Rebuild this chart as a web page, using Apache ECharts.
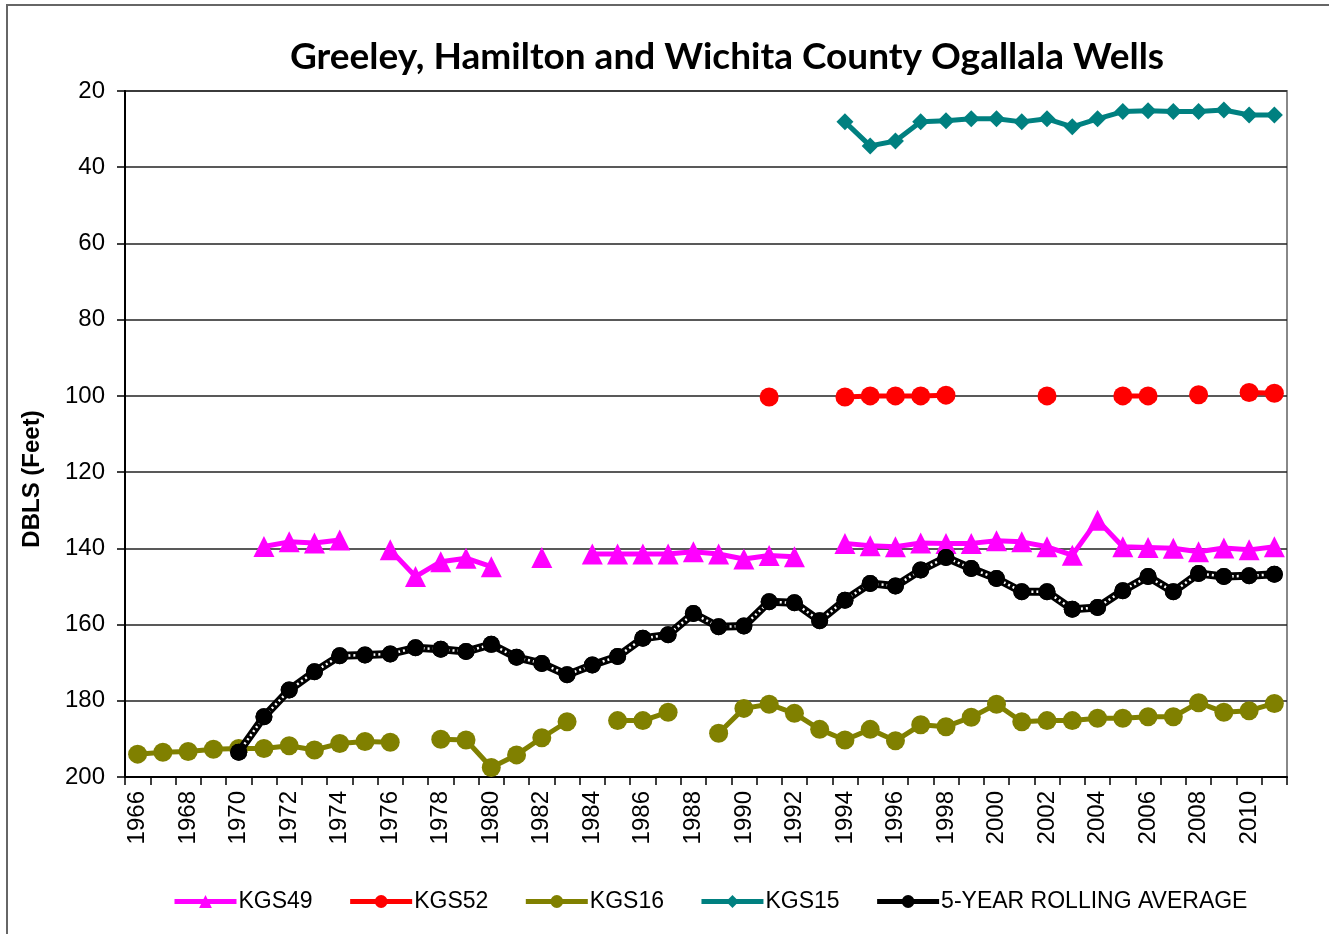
<!DOCTYPE html>
<html><head><meta charset="utf-8">
<script src="https://cdn.jsdelivr.net/npm/echarts@6/dist/echarts.min.js"></script>
<style>html,body{margin:0;padding:0;background:#fff}#c{width:1329px;height:934px}</style>
</head><body><div id="c"></div>
<script>
const years = ['1966','1967','1968','1969','1970','1971','1972','1973','1974','1975','1976','1977','1978','1979','1980','1981','1982','1983','1984','1985','1986','1987','1988','1989','1990','1991','1992','1993','1994','1995','1996','1997','1998','1999','2000','2001','2002','2003','2004','2005','2006','2007','2008','2009','2010','2011'];
const kgs49 = [null,null,null,null,null,139.5,138.3,138.6,137.8,null,140.4,147.4,143.5,142.6,144.8,null,142.4,null,141.5,141.5,141.5,141.5,140.9,141.5,142.8,141.9,142.2,null,138.7,139.3,139.6,138.6,138.7,138.7,138.0,138.3,139.6,141.8,132.6,139.6,139.8,140.0,140.9,139.9,140.4,139.6];
const kgs52 = [null,null,null,null,null,null,null,null,null,null,null,null,null,null,null,null,null,null,null,null,null,null,null,null,null,100.3,null,null,100.3,100.0,100.0,100.0,99.8,null,null,null,100.0,null,null,100.0,100.0,null,99.7,null,99.1,99.3];
const kgs16 = [194.0,193.5,193.3,192.7,192.5,192.5,191.8,192.9,191.2,190.7,190.9,null,190.1,190.3,197.5,194.2,189.7,185.5,null,185.2,185.2,183.0,null,188.5,182.0,180.9,183.3,187.5,190.3,187.5,190.5,186.3,186.8,184.3,180.9,185.5,185.2,185.2,184.6,184.6,184.2,184.2,180.5,183.0,182.6,180.7];
const kgs15 = [null,null,null,null,null,null,null,null,null,null,null,null,null,null,null,null,null,null,null,null,null,null,null,null,null,null,null,null,28.1,34.4,33.1,28.1,27.8,27.3,27.3,28.1,27.3,29.4,27.3,25.4,25.2,25.4,25.4,25.0,26.3,26.3];
const avg5 = [null,null,null,null,193.5,184.2,177.2,172.4,168.2,168.0,167.7,166.1,166.5,167.1,165.2,168.6,170.2,173.2,170.6,168.4,163.6,162.7,157.1,160.6,160.4,154.0,154.3,159.0,153.6,149.2,149.9,145.7,142.4,145.3,147.9,151.4,151.4,156.0,155.5,151.1,147.4,151.4,146.6,147.4,147.2,146.8];
const yTicks = [20,40,60,80,100,120,140,160,180,200];

const chart = echarts.init(document.getElementById('c'));
const FONT = '"Liberation Sans", Arial, sans-serif';
function lineSeries(name, data, color, symbol, size) {
  return {name, type:'line', data, connectNulls:false, symbol, symbolSize:size,
    showAllSymbol:true, lineStyle:{color, width:5}, itemStyle:{color}, animation:false, z:3};
}
chart.setOption({
  animation:false,
  backgroundColor:'#fff',
  title:{text:'Greeley, Hamilton and Wichita County Ogallala Wells', left:722, top:34, textAlign:'center',
    textStyle:{fontFamily:'Lato, "Liberation Sans", sans-serif', fontWeight:'bold', fontSize:37, color:'#000'}},
  graphic:[
    {type:'line', shape:{x1:6, y1:5, x2:1329, y2:5}, style:{stroke:'#666', lineWidth:2}},
    {type:'line', shape:{x1:7, y1:5, x2:7, y2:934}, style:{stroke:'#666', lineWidth:2}},
    {type:'text', x:32, y:479, rotation:Math.PI/2,
      style:{text:'DBLS (Feet)', fontFamily:FONT, fontWeight:'bold', fontSize:24, fill:'#000', align:'center', verticalAlign:'middle'}}
  ],
  grid:{left:125, top:91, right:42, bottom:157, show:true, borderColor:'#888', borderWidth:2, backgroundColor:'transparent'},
  legend:{top:885, left:167, itemWidth:62, itemHeight:16, itemGap:35,
    lineStyle:{width:5},
    data:['KGS49','KGS52','KGS16','KGS15','5-YEAR ROLLING AVERAGE'],
    textStyle:{fontFamily:FONT, fontSize:23, color:'#000', padding:[0,0,0,-3]}},
  xAxis:{type:'category', data:years, boundaryGap:true,
    axisLine:{lineStyle:{color:'#000', width:2}},
    axisTick:{show:true, interval:0, length:8, lineStyle:{color:'#000', width:1.5}},
    axisLabel:{interval:1, rotate:90, fontFamily:FONT, fontSize:24, color:'#000', margin:14},
    splitLine:{show:false}},
  yAxis:{type:'value', inverse:true, min:20, max:200, interval:20,
    axisLine:{show:true, lineStyle:{color:'#000', width:2}},
    axisTick:{show:true, length:8, lineStyle:{color:'#000', width:1.5}},
    axisLabel:{fontFamily:FONT, fontSize:24, color:'#000', margin:20,
      formatter:v => yTicks.includes(v) ? String(v) : ''},
    splitLine:{show:true, lineStyle:{color:'#222', width:1.5}}},
  series:[
    lineSeries('KGS49', kgs49, '#FF00FF', 'triangle', 21),
    lineSeries('KGS52', kgs52, '#FF0000', 'circle', 19),
    lineSeries('KGS16', kgs16, '#808000', 'circle', 19),
    lineSeries('KGS15', kgs15, '#008080', 'diamond', 17),
    {name:'5-YEAR ROLLING AVERAGE', type:'line', data:avg5, symbol:'circle', symbolSize:17, showAllSymbol:true,
      lineStyle:{color:'#000', width:8}, itemStyle:{color:'#000'}, z:4},
    {name:'avg-dots', type:'line', data:avg5, symbol:'none', silent:true,
      lineStyle:{color:'#fff', width:2.5, type:[2,3]}, z:5},
    {name:'avg-marks', type:'line', data:avg5, symbol:'circle', symbolSize:17, showAllSymbol:true,
      lineStyle:{width:0, opacity:0}, itemStyle:{color:'#000'}, z:6}
  ]
});
</script></body></html>
